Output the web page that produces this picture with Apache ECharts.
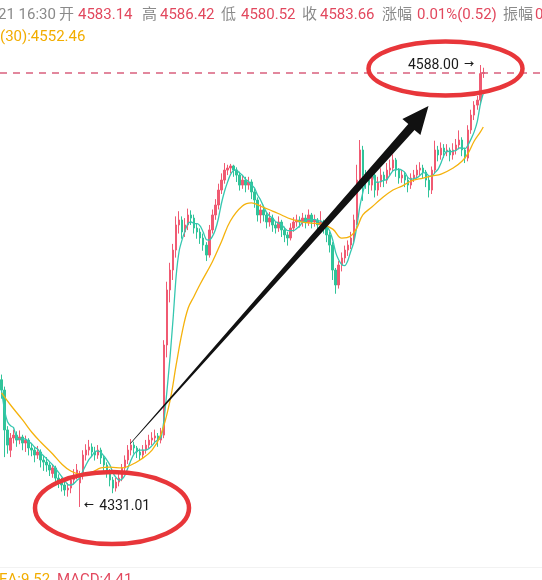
<!DOCTYPE html>
<html>
<head>
<meta charset="utf-8">
<script src="https://cdn.jsdelivr.net/npm/echarts@6/dist/echarts.min.js"></script>
<style>
  html, body { margin: 0; padding: 0; background: #fff; }
  #main { width: 542px; height: 580px; }
</style>
</head>
<body>
<div id="main"></div>
<script>
// 每根K线: [开, 收, 低, 高]
const candles = [
  [4405.0, 4399.0, 4394.0, 4408.0], [4399.0, 4375.8, 4360.0, 4401.0], [4375.8, 4367.0, 4362.0, 4378.0],
  [4364.0, 4371.1, 4360.0, 4374.0], [4371.1, 4372.8, 4368.0, 4376.0], [4372.8, 4369.9, 4366.0, 4375.0],
  [4369.9, 4371.7, 4367.5, 4375.5], [4371.7, 4368.2, 4364.0, 4373.0], [4368.2, 4369.9, 4363.0, 4372.5],
  [4369.9, 4365.3, 4361.0, 4371.0], [4365.3, 4364.1, 4360.5, 4368.0], [4364.1, 4361.2, 4357.0, 4366.0],
  [4361.2, 4363.0, 4359.0, 4366.5], [4363.0, 4358.3, 4354.0, 4364.5], [4358.3, 4357.1, 4352.0, 4361.0],
  [4357.1, 4355.4, 4351.5, 4360.0], [4355.4, 4352.5, 4349.0, 4357.0], [4350.5, 4353.7, 4348.0, 4356.0],
  [4353.7, 4347.8, 4344.0, 4355.0], [4347.8, 4345.5, 4342.0, 4350.0], [4345.5, 4343.8, 4340.0, 4348.0],
  [4343.8, 4340.9, 4337.5, 4346.0], [4340.9, 4342.0, 4337.0, 4345.0], [4342.0, 4346.7, 4339.0, 4349.0],
  [4346.7, 4349.6, 4344.0, 4353.0], [4349.6, 4352.5, 4347.0, 4356.0], [4345.0, 4349.0, 4331.01, 4352.0],
  [4349.0, 4361.2, 4347.0, 4364.0], [4361.2, 4364.1, 4358.0, 4367.5], [4364.1, 4365.9, 4361.0, 4370.0],
  [4365.9, 4363.0, 4360.0, 4368.0], [4363.0, 4361.2, 4358.0, 4366.0], [4361.2, 4364.1, 4359.0, 4367.0],
  [4364.1, 4359.5, 4356.0, 4365.5], [4359.5, 4355.4, 4352.0, 4361.0], [4355.4, 4351.3, 4348.0, 4357.0],
  [4351.3, 4346.7, 4343.0, 4353.0], [4346.7, 4342.0, 4339.0, 4348.5], [4342.0, 4345.5, 4340.0, 4348.0],
  [4345.5, 4347.8, 4343.0, 4351.0], [4347.8, 4353.7, 4346.0, 4356.0], [4353.7, 4358.3, 4351.0, 4361.0],
  [4358.3, 4364.1, 4356.0, 4367.0], [4364.1, 4367.0, 4361.0, 4370.5], [4367.0, 4365.3, 4362.0, 4369.0],
  [4365.3, 4363.0, 4359.5, 4366.5], [4363.0, 4361.2, 4358.0, 4365.0], [4361.2, 4364.1, 4359.0, 4367.0],
  [4364.1, 4367.0, 4362.0, 4370.0], [4367.0, 4369.9, 4365.0, 4373.0], [4369.9, 4371.1, 4367.0, 4374.5],
  [4371.1, 4372.3, 4368.0, 4376.0], [4372.3, 4369.9, 4366.0, 4374.0], [4369.9, 4372.8, 4368.0, 4377.0],
  [4372.8, 4425.2, 4371.0, 4428.0], [4425.2, 4457.2, 4418.0, 4462.0], [4457.2, 4468.8, 4450.0, 4473.0],
  [4468.8, 4480.4, 4463.0, 4484.0], [4480.4, 4495.0, 4476.0, 4500.0], [4495.0, 4497.9, 4490.0, 4503.0],
  [4497.9, 4490.9, 4487.0, 4500.0], [4490.9, 4495.0, 4488.0, 4499.0], [4495.0, 4500.8, 4492.0, 4504.5],
  [4500.8, 4499.0, 4495.0, 4503.5], [4499.0, 4493.2, 4490.0, 4501.0], [4493.2, 4490.9, 4487.0, 4496.0],
  [4490.9, 4487.4, 4484.0, 4493.0], [4487.4, 4483.3, 4480.0, 4490.0], [4483.3, 4477.5, 4474.0, 4485.0],
  [4477.5, 4492.1, 4476.0, 4495.0], [4492.1, 4500.8, 4490.0, 4504.0], [4500.8, 4506.6, 4498.0, 4510.0],
  [4506.6, 4515.3, 4504.0, 4519.0], [4515.3, 4521.1, 4513.0, 4525.0], [4521.1, 4526.9, 4519.0, 4531.0],
  [4526.9, 4528.1, 4524.0, 4530.0], [4528.1, 4529.3, 4525.0, 4530.5], [4529.3, 4526.9, 4523.0, 4530.0],
  [4526.9, 4524.0, 4520.0, 4528.5], [4524.0, 4518.2, 4515.0, 4526.0], [4518.2, 4521.1, 4516.0, 4524.0],
  [4521.1, 4518.2, 4514.0, 4523.0], [4518.2, 4520.0, 4515.5, 4523.0], [4520.0, 4514.2, 4510.0, 4521.5],
  [4514.2, 4509.5, 4505.0, 4516.0], [4509.5, 4500.8, 4497.0, 4511.0], [4500.8, 4503.7, 4496.0, 4507.0],
  [4503.7, 4500.8, 4497.0, 4505.0], [4500.8, 4496.7, 4493.0, 4502.0], [4496.7, 4499.0, 4494.0, 4502.5],
  [4499.0, 4495.0, 4491.0, 4501.0], [4495.0, 4493.2, 4490.0, 4497.0], [4493.2, 4496.7, 4491.0, 4500.0],
  [4496.7, 4492.1, 4488.0, 4498.0], [4492.1, 4489.2, 4485.0, 4494.0], [4489.2, 4487.4, 4483.0, 4491.0],
  [4487.4, 4493.2, 4486.0, 4496.0], [4493.2, 4496.7, 4491.0, 4499.5], [4496.7, 4497.9, 4494.0, 4501.0],
  [4497.9, 4496.7, 4493.5, 4500.0], [4496.7, 4499.0, 4494.0, 4502.0], [4499.0, 4496.7, 4493.0, 4501.0],
  [4496.7, 4500.8, 4494.5, 4504.0], [4500.8, 4496.7, 4493.0, 4502.0], [4496.7, 4497.9, 4494.0, 4501.0],
  [4497.9, 4495.0, 4491.5, 4499.0], [4495.0, 4496.7, 4493.0, 4503.0], [4496.7, 4493.2, 4490.0, 4498.0],
  [4493.2, 4489.2, 4485.0, 4495.0], [4489.2, 4483.3, 4479.0, 4491.0], [4483.3, 4468.8, 4463.0, 4485.0],
  [4468.8, 4460.1, 4455.0, 4470.0], [4460.1, 4471.7, 4458.0, 4474.0], [4471.7, 4475.8, 4468.0, 4479.0],
  [4475.8, 4480.4, 4473.0, 4483.0], [4480.4, 4483.3, 4477.0, 4486.0], [4483.3, 4487.4, 4481.0, 4491.0],
  [4487.4, 4497.9, 4485.0, 4501.0], [4497.9, 4521.1, 4495.0, 4530.0], [4521.1, 4538.6, 4518.0, 4544.4],
  [4538.6, 4524.0, 4509.0, 4541.0], [4524.0, 4521.1, 4516.0, 4527.0], [4521.1, 4518.2, 4513.0, 4524.0],
  [4518.2, 4524.0, 4515.0, 4527.5], [4524.0, 4515.3, 4511.0, 4525.0], [4515.3, 4520.0, 4512.0, 4523.0],
  [4520.0, 4524.0, 4517.0, 4528.0], [4524.0, 4521.1, 4517.0, 4526.0], [4521.1, 4526.9, 4519.0, 4531.0],
  [4526.9, 4528.1, 4524.0, 4533.0], [4528.1, 4532.8, 4526.0, 4536.0], [4532.8, 4526.9, 4523.0, 4534.0],
  [4526.9, 4522.3, 4519.0, 4528.0], [4522.3, 4524.0, 4519.5, 4527.0], [4524.0, 4521.1, 4517.0, 4526.0],
  [4521.1, 4518.2, 4514.0, 4523.0], [4518.2, 4522.3, 4516.0, 4525.0], [4522.3, 4524.0, 4520.0, 4527.0],
  [4524.0, 4526.9, 4522.0, 4530.0], [4526.9, 4528.1, 4524.0, 4531.5], [4528.1, 4525.8, 4522.0, 4530.0],
  [4525.8, 4521.1, 4517.0, 4527.0], [4521.1, 4515.3, 4511.0, 4523.0], [4515.3, 4526.9, 4513.0, 4529.0],
  [4526.9, 4538.6, 4525.0, 4544.0], [4538.6, 4535.7, 4532.0, 4541.0], [4535.7, 4539.7, 4533.0, 4543.0],
  [4539.7, 4537.4, 4534.0, 4542.0], [4537.4, 4538.6, 4535.0, 4542.0], [4538.6, 4535.7, 4532.0, 4540.0],
  [4535.7, 4538.6, 4533.0, 4542.5], [4538.6, 4541.5, 4536.0, 4545.0], [4541.5, 4544.4, 4539.0, 4550.0],
  [4544.4, 4538.6, 4535.0, 4546.0], [4538.6, 4533.9, 4531.0, 4540.0], [4533.9, 4550.2, 4532.0, 4553.0],
  [4550.2, 4558.9, 4548.0, 4562.0], [4558.9, 4564.7, 4556.0, 4567.0], [4564.7, 4567.6, 4562.0, 4570.0],
  [4567.6, 4583.0, 4565.0, 4588.0], [4583.14, 4583.66, 4580.52, 4586.42]
];

// MA(30) 黄线 读点 (K线序号, 值)
const ma30Index = [0, 3, 7, 10, 13, 17, 20, 23, 26, 30, 33, 36, 40, 43, 46, 50, 53, 56, 58, 60, 62, 64, 66,
  70, 73, 76, 80, 83, 86, 90, 93, 96, 100, 103, 106, 110, 113, 116, 118, 120, 123, 126, 130, 133, 136,
  140, 143, 146, 150, 153, 155, 157, 159, 160];
const ma30Values = [4397.3, 4390.3, 4381.6, 4374.6, 4368.8, 4361.8, 4356.0, 4351.9, 4350.2, 4351.3, 4353.7,
  4354.2, 4353.7, 4355.4, 4358.3, 4364.1, 4373.4, 4393.2, 4413.6, 4432.7, 4446.7, 4453.7, 4460.7,
  4473.5, 4485.1, 4497.3, 4506.0, 4507.8, 4506.0, 4503.1, 4500.8, 4498.5, 4496.7, 4496.1, 4495.5,
  4492.6, 4487.4, 4488.6, 4493.2, 4500.8, 4505.4, 4510.1, 4515.3, 4517.6, 4520.5, 4522.3, 4523.5,
  4524.6, 4528.1, 4532.2, 4536.8, 4543.8, 4549.0, 4552.0];

const highPoint = { index: 159, value: 4588.00 };
const lowPoint = { index: 26, value: 4331.01 };
const lastPrice = 4583.66;
const totalSlots = 180;   // 右侧留空

const categories = [];
for (let i = 0; i < totalSlots; i++) categories.push(String(i));

const klineData = candles.slice();
while (klineData.length < totalSlots) klineData.push('-');

function calcMA(n) {
  const out = [];
  for (let i = 0; i < candles.length; i++) {
    let s = 0, c = 0;
    for (let j = Math.max(0, i - n + 1); j <= i; j++) { s += candles[j][1]; c++; }
    out.push(+(s / c).toFixed(2));
  }
  return out;
}

const ma30Data = ma30Index.map((idx, k) => [idx, ma30Values[k]]);

const gray = '#8a8a8a';
const red = '#e2485e';
const font = '"Roboto", "Noto Sans CJK SC", sans-serif';

function txt(x, y, text, color) {
  return {
    type: 'text', x: x, y: y, z: 100,
    style: { text: text, fill: color, fontSize: 15, fontFamily: font, verticalAlign: 'middle' }
  };
}

const chart = echarts.init(document.getElementById('main'));
chart.setOption({
  animation: false,
  backgroundColor: '#fff',
  grid: { left: 0, right: 0, top: 10, height: 550.3 },
  xAxis: {
    type: 'category', data: categories, boundaryGap: true,
    axisLine: { show: false }, axisTick: { show: false }, axisLabel: { show: false },
    splitLine: { show: false }
  },
  yAxis: {
    type: 'value', min: 4300, max: 4620, scale: true,
    axisLine: { show: false }, axisTick: { show: false }, axisLabel: { show: false },
    splitLine: { show: false }
  },
  series: [
    {
      type: 'candlestick',
      data: klineData,
      barWidth: 2,
      itemStyle: {
        color: '#f05a72', color0: '#30c49a',
        borderColor: '#f05a72', borderColor0: '#30c49a', borderWidth: 1
      },
      markLine: {
        silent: true, symbol: 'none',
        label: { show: false },
        lineStyle: { color: '#d9607e', type: [7, 6], width: 1.5 },
        data: [{ yAxis: lastPrice }]
      },
      markPoint: {
        symbol: 'circle', symbolSize: 0,
        label: {
          show: true, color: '#1a1a1a', fontSize: 14, fontFamily: font,
          rich: { ar: { fontSize: 10, fontWeight: 'bold', color: '#1a1a1a', padding: [0, 2, 0, 2] } }
        },
        data: [
          { coord: [highPoint.index, highPoint.value],
            label: { position: 'left', distance: 4, formatter: highPoint.value.toFixed(2) + ' {ar|→}' } },
          { coord: [lowPoint.index, lowPoint.value],
            label: { position: 'right', distance: 2, formatter: '{ar|←} ' + lowPoint.value.toFixed(2) } }
        ]
      }
    },
    {
      type: 'line', data: calcMA(5), showSymbol: false, smooth: 0.2,
      lineStyle: { color: '#35c7b0', width: 1.3 }
    },
    {
      type: 'line', data: ma30Data, showSymbol: false, smooth: 0.4, connectNulls: true,
      lineStyle: { color: '#f5b20c', width: 1.3 }
    }
  ],
  graphic: [
    txt(-2, 15, '21 16:30', gray),
    txt(59, 15, '开', gray), txt(78, 15, '4583.14', red),
    txt(142, 15, '高', gray), txt(160, 15, '4586.42', red),
    txt(221, 15, '低', gray), txt(241, 15, '4580.52', red),
    txt(302, 15, '收', gray), txt(320, 15, '4583.66', red),
    txt(382, 15, '涨幅', gray), txt(417, 15, '0.01%(0.52)', red),
    txt(503, 15, '振幅', gray), txt(535, 15, '0', red),
    txt(0, 37, '(30):4552.46', '#f2ad00'),
    { type: 'line', z: 1, shape: { x1: 0, y1: 567.5, x2: 542, y2: 567.5 }, style: { stroke: '#f2f2f2', lineWidth: 1 } },
    txt(-1, 580, 'EA:9.52', '#f2ad00'),
    txt(57, 580, 'MACD:4.41', red),
    // 上升箭头
    {
      type: 'polygon', z: 100,
      shape: { points: [[130, 443.5], [408.3, 124.0], [402.4, 118.9], [428.5, 106], [420.4, 134.9], [414.5, 130.0], [130.6, 443.8]] },
      style: { fill: '#111' }
    },
    // 红圈
    {
      type: 'ellipse', z: 101,
      shape: { cx: 445.5, cy: 68.5, rx: 77, ry: 27 },
      style: { fill: 'none', stroke: '#e8363a', lineWidth: 4.5 }
    },
    {
      type: 'ellipse', z: 101,
      shape: { cx: 112, cy: 508, rx: 77, ry: 36 },
      style: { fill: 'none', stroke: '#e8363a', lineWidth: 4.5 }
    }
  ]
});
</script>
</body>
</html>
